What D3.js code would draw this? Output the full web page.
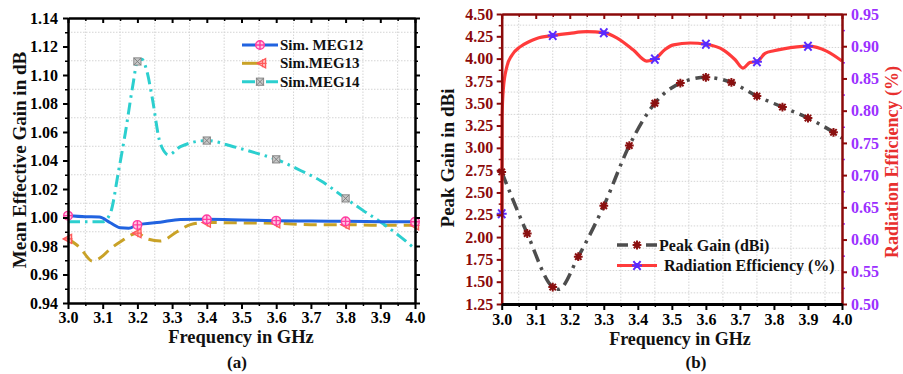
<!DOCTYPE html>
<html>
<head>
<meta charset="utf-8">
<script src="https://cdn.jsdelivr.net/npm/d3@7"></script>
<style>
  body { margin: 0; background: #fff; }
  svg { display: block; }
  text { font-family: "Liberation Serif", "Times New Roman", serif; font-weight: bold; }
</style>
</head>
<body>
<svg id="chart" width="903" height="374"></svg>
<script>
// ---------- Panel (a): mean effective gain ----------
const meg12Freq = [3.0, 3.05, 3.09, 3.122, 3.151, 3.175, 3.2, 3.266, 3.324, 3.4, 3.5, 3.6, 3.7, 3.8, 3.9, 4.0];
const meg12Val  = [1.0013, 1.0006, 1.0003, 0.9963, 0.9928, 0.9925, 0.9948, 0.9967, 0.9986, 0.9987, 0.9983, 0.9978, 0.9975, 0.9973, 0.9971, 0.9970];
const meg12Marks = [3.0, 3.2, 3.4, 3.6, 3.8, 4.0];

const meg13Freq = [3.0, 3.035, 3.07, 3.093, 3.122, 3.151, 3.2, 3.228, 3.266, 3.314, 3.353, 3.4, 3.5, 3.6, 3.7, 3.8, 3.9, 4.0];
const meg13Val  = [0.985, 0.9787, 0.9694, 0.9717, 0.978, 0.983, 0.989, 0.985, 0.9835, 0.990, 0.995, 0.9965, 0.9962, 0.996, 0.995, 0.995, 0.9945, 0.9945];
const meg13Marks = [3.0, 3.2, 3.4, 3.6, 3.8, 4.0];

const meg14Freq = [3.0, 3.05, 3.1, 3.122, 3.146, 3.165, 3.187, 3.2, 3.213, 3.228, 3.242, 3.266, 3.29, 3.324, 3.4, 3.477, 3.545, 3.6, 3.67, 3.727, 3.8, 3.85, 3.9, 3.95, 4.0];
const meg14Val  = [0.997, 0.997, 0.997, 1.003, 1.033, 1.059, 1.093, 1.1095, 1.111, 1.102, 1.085, 1.052, 1.044, 1.0497, 1.054, 1.0497, 1.045, 1.0408, 1.033, 1.026, 1.0134, 1.005, 0.997, 0.988, 0.978];
const meg14Marks = [3.2, 3.4, 3.6, 3.8];

const freqTicks = [3.0, 3.1, 3.2, 3.3, 3.4, 3.5, 3.6, 3.7, 3.8, 3.9, 4.0];
const megTicks = [0.94, 0.96, 0.98, 1.00, 1.02, 1.04, 1.06, 1.08, 1.10, 1.12, 1.14];

// ---------- Panel (b): peak gain and radiation efficiency ----------
const gainFreq = [3.0, 3.075, 3.15, 3.167, 3.225, 3.3, 3.375, 3.45, 3.525, 3.6, 3.675, 3.75, 3.825, 3.9, 3.975, 4.0];
const gainVal  = [2.73, 2.04, 1.44, 1.415, 1.78, 2.35, 3.025, 3.50, 3.726, 3.79, 3.733, 3.58, 3.457, 3.334, 3.174, 3.11];
const gainMarks = [3.0, 3.075, 3.15, 3.225, 3.3, 3.375, 3.45, 3.525, 3.6, 3.675, 3.75, 3.825, 3.9, 3.975];

const effFreq = [3.0, 3.001, 3.005, 3.015, 3.03, 3.054, 3.08, 3.103, 3.15, 3.2, 3.25, 3.3, 3.338, 3.387, 3.426, 3.45, 3.48, 3.505, 3.554, 3.6, 3.652, 3.686, 3.709, 3.73, 3.75, 3.774, 3.8, 3.828, 3.9, 3.956, 4.0];
const effVal  = [0.64, 0.79, 0.835, 0.868, 0.886, 0.899, 0.907, 0.912, 0.9165, 0.920, 0.9225, 0.921, 0.913, 0.894, 0.877, 0.880, 0.895, 0.902, 0.905, 0.903, 0.894, 0.879, 0.866, 0.875, 0.876, 0.889, 0.893, 0.896, 0.900, 0.892, 0.877];
const effMarks = [3.0, 3.15, 3.3, 3.45, 3.6, 3.75, 3.9];

const gainTicks = [1.25, 1.50, 1.75, 2.00, 2.25, 2.50, 2.75, 3.00, 3.25, 3.50, 3.75, 4.00, 4.25, 4.50];
const effTicks = [0.50, 0.55, 0.60, 0.65, 0.70, 0.75, 0.80, 0.85, 0.90, 0.95];

// ---------- helpers ----------
const svg = d3.select("#chart");
const zip = (xs, ys) => xs.map((x, i) => [x, ys[i]]);
const pick = (xs, ys, marks) => marks.map(m => [m, ys[xs.findIndex(v => Math.abs(v - m) < 1e-9)]]);
const mid = (arr) => arr.slice(0, -1).map((v, i) => +((v + arr[i + 1]) / 2).toFixed(4));

function styleAxis(g, color, width, fontSize, textColor) {
  g.select(".domain").attr("stroke", color).attr("stroke-width", width);
  g.selectAll(".tick line").attr("stroke", color).attr("stroke-width", 2);
  g.selectAll(".tick text").attr("fill", textColor || color)
    .style("font-size", fontSize + "px").style("font-weight", "bold")
    .style("font-family", '"Liberation Serif","Times New Roman",serif');
  g.attr("font-size", null).attr("font-family", null);
}

function minorAxis(parent, gen, transform, color) {
  const g = parent.append("g").attr("transform", transform).call(gen);
  g.select(".domain").remove();
  g.selectAll(".tick line").attr("stroke", color).attr("stroke-width", 1.5);
  g.selectAll(".tick text").remove();
  return g;
}

// Marker glyphs
const markers = {
  meg12(g, x, y) {
    const m = g.append("g").attr("transform", `translate(${x},${y})`);
    m.append("circle").attr("r", 4.3).attr("fill", "#ffc6e2").attr("stroke", "#ff3ca0").attr("stroke-width", 1.4);
    m.append("path").attr("d", "M-4.3,0H4.3M0,-4.3V4.3").attr("stroke", "#ff3ca0").attr("stroke-width", 1.4);
  },
  meg13(g, x, y) {
    const m = g.append("g").attr("transform", `translate(${x},${y})`);
    m.append("path").attr("d", "M-4.8,0L3.6,-4.6L3.6,4.6Z").attr("fill", "#ffc4c4").attr("stroke", "#ff5a5a").attr("stroke-width", 1.3);
    m.append("path").attr("d", "M-4.6,0H4.6M0.5,-4V4").attr("stroke", "#ff5a5a").attr("stroke-width", 1.2);
  },
  meg14(g, x, y) {
    const m = g.append("g").attr("transform", `translate(${x},${y})`);
    m.append("rect").attr("x", -3.6).attr("y", -3.6).attr("width", 7.2).attr("height", 7.2)
      .attr("fill", "#c8c8c8").attr("stroke", "#8a8a8a").attr("stroke-width", 1);
    m.append("path").attr("d", "M-3.6,-3.6L3.6,3.6M3.6,-3.6L-3.6,3.6").attr("stroke", "#7a7a7a").attr("stroke-width", 0.9);
  },
  gain(g, x, y) {
    const m = g.append("g").attr("transform", `translate(${x},${y})`);
    m.append("path").attr("d", "M-4.4,0H4.4M0,-4.4V4.4M-3.2,-3.2L3.2,3.2M3.2,-3.2L-3.2,3.2")
      .attr("stroke", "#8b1010").attr("stroke-width", 2);
    m.append("circle").attr("r", 1.6).attr("fill", "#8b1010");
  },
  eff(g, x, y) {
    const m = g.append("g").attr("transform", `translate(${x},${y})`);
    m.append("path").attr("d", "M-5,0H5M-3.6,-4.4L3.6,4.4M3.6,-4.4L-3.6,4.4M0,-2.5V2.5")
      .attr("stroke", "#5a2bff").attr("stroke-width", 2);
    m.append("circle").attr("r", 1.8).attr("fill", "#5a2bff");
  }
};

function gridLines(g, x, y, xVals, yVals) {
  const [x0, x1] = x.range(), [y0, y1] = y.range();
  g.append("g").selectAll("line").data(xVals).join("line")
    .attr("x1", d => x(d)).attr("x2", d => x(d)).attr("y1", y0).attr("y2", y1)
    .attr("stroke", "#d4d4d4").attr("stroke-width", 1).attr("stroke-dasharray", "1.5,1.5");
  g.append("g").selectAll("line").data(yVals).join("line")
    .attr("y1", d => y(d)).attr("y2", d => y(d)).attr("x1", x0).attr("x2", x1)
    .attr("stroke", "#d4d4d4").attr("stroke-width", 1).attr("stroke-dasharray", "1.5,1.5");
}

const fmt1 = d3.format(".1f"), fmt2 = d3.format(".2f");

// ================= Panel (a) =================
{
  const x = d3.scaleLinear().domain([3, 4]).range([68, 415]);
  const y = d3.scaleLinear().domain([0.94, 1.14]).range([303, 18]);
  const g = svg.append("g");
  const minorX = mid(freqTicks), minorY = mid(megTicks);

  gridLines(g, x, y, minorX, minorY);

  const line = d3.line().x(d => x(d[0])).y(d => y(d[1])).curve(d3.curveMonotoneX);
  const plot = g.append("g");
  plot.append("path").datum(zip(meg13Freq, meg13Val)).attr("d", line)
    .attr("fill", "none").attr("stroke", "#c9a227").attr("stroke-width", 3).attr("stroke-dasharray", "13,7");
  plot.append("path").datum(zip(meg14Freq, meg14Val)).attr("d", line)
    .attr("fill", "none").attr("stroke", "#2ccfcf").attr("stroke-width", 3).attr("stroke-dasharray", "12,5,2.5,5");
  plot.append("path").datum(zip(meg12Freq, meg12Val)).attr("d", line)
    .attr("fill", "none").attr("stroke", "#2163e0").attr("stroke-width", 3);

  pick(meg13Freq, meg13Val, meg13Marks).forEach(d => markers.meg13(plot, x(d[0]), y(d[1])));
  pick(meg12Freq, meg12Val, meg12Marks).forEach(d => markers.meg12(plot, x(d[0]), y(d[1])));
  pick(meg14Freq, meg14Val, meg14Marks).forEach(d => markers.meg14(plot, x(d[0]), y(d[1])));

  // frame and ticks
  minorAxis(g, d3.axisBottom(x).tickValues(minorX).tickSize(3), `translate(0,303)`, "#000");
  minorAxis(g, d3.axisTop(x).tickValues(minorX).tickSize(-3), `translate(0,18)`, "#000");
  minorAxis(g, d3.axisLeft(y).tickValues(minorY).tickSize(3), `translate(68,0)`, "#000");
  minorAxis(g, d3.axisRight(y).tickValues(minorY).tickSize(3), `translate(415,0)`, "#000");

  const top = g.append("g").attr("transform", "translate(0,18)")
    .call(d3.axisTop(x).tickValues(freqTicks).tickSize(-5).tickSizeOuter(0).tickFormat(""));
  styleAxis(top, "#000", 2.5, 16);
  const right = g.append("g").attr("transform", "translate(415,0)")
    .call(d3.axisRight(y).tickValues(megTicks).tickSize(5).tickSizeOuter(0).tickFormat(""));
  styleAxis(right, "#000", 2.5, 16);
  const bottom = g.append("g").attr("transform", "translate(0,303)")
    .call(d3.axisBottom(x).tickValues(freqTicks).tickSize(6).tickSizeOuter(0).tickPadding(3).tickFormat(fmt1));
  styleAxis(bottom, "#000", 2.5, 16);
  const left = g.append("g").attr("transform", "translate(68,0)")
    .call(d3.axisLeft(y).tickValues(megTicks).tickSize(5).tickSizeOuter(0).tickPadding(5).tickFormat(fmt2));
  styleAxis(left, "#000", 2.5, 16);

  // axis titles
  g.append("text").attr("x", 241).attr("y", 343).attr("text-anchor", "middle")
    .style("font-size", "18.5px").attr("fill", "#111").text("Frequency in GHz");
  g.append("text").attr("transform", "translate(26,160) rotate(-90)").attr("text-anchor", "middle")
    .style("font-size", "19px").attr("fill", "#111").text("Mean Effective Gain in dB");
  g.append("text").attr("x", 237).attr("y", 368).attr("text-anchor", "middle")
    .style("font-size", "17px").attr("fill", "#111").text("(a)");

  // legend
  const lg = g.append("g");
  const rows = [
    { label: "Sim. MEG12", y: 45 },
    { label: "Sim.MEG13", y: 63.3 },
    { label: "Sim.MEG14", y: 81.7 }
  ];
  lg.append("line").attr("x1", 242).attr("x2", 278).attr("y1", rows[0].y).attr("y2", rows[0].y)
    .attr("stroke", "#2163e0").attr("stroke-width", 3);
  markers.meg12(lg, 260, rows[0].y);
  lg.append("line").attr("x1", 242).attr("x2", 263).attr("y1", rows[1].y).attr("y2", rows[1].y)
    .attr("stroke", "#c9a227").attr("stroke-width", 3);
  markers.meg13(lg, 262, rows[1].y);
  lg.append("line").attr("x1", 242).attr("x2", 278).attr("y1", rows[2].y).attr("y2", rows[2].y)
    .attr("stroke", "#2ccfcf").attr("stroke-width", 3).attr("stroke-dasharray", "13,11");
  markers.meg14(lg, 260, rows[2].y);
  rows.forEach(r => lg.append("text").attr("x", 280).attr("y", r.y + 5)
    .style("font-size", "15px").attr("fill", "#111").text(r.label));
}

// ================= Panel (b) =================
{
  const x = d3.scaleLinear().domain([3, 4]).range([501.7, 842]);
  const y = d3.scaleLinear().domain([1.25, 4.5]).range([304, 14]);
  const y2 = d3.scaleLinear().domain([0.50, 0.95]).range([304, 14]);
  const g = svg.append("g");
  const maroon = "#8b0a0a", purple = "#9b30ff";
  const minorX = mid(freqTicks), minorY = mid(gainTicks), minorY2 = mid(effTicks);

  gridLines(g, x, y, minorX, minorY);

  const plot = g.append("g");
  const gl = d3.line().x(d => x(d[0])).y(d => y(d[1])).curve(d3.curveMonotoneX);
  const el = d3.line().x(d => x(d[0])).y(d => y2(d[1])).curve(d3.curveMonotoneX);
  plot.append("path").datum(zip(gainFreq, gainVal)).attr("d", gl)
    .attr("fill", "none").attr("stroke", "#4d4d4d").attr("stroke-width", 3.5).attr("stroke-dasharray", "13,6,3,6");
  plot.append("path").datum(zip(effFreq, effVal)).attr("d", el)
    .attr("fill", "none").attr("stroke", "#ff3b3b").attr("stroke-width", 3.2);
  pick(gainFreq, gainVal, gainMarks).forEach(d => markers.gain(plot, x(d[0]), y(d[1])));
  pick(effFreq, effVal, effMarks).forEach(d => markers.eff(plot, x(d[0]), y2(d[1])));

  minorAxis(g, d3.axisBottom(x).tickValues(minorX).tickSize(3), `translate(0,304)`, "#000");
  minorAxis(g, d3.axisTop(x).tickValues(minorX).tickSize(-3), `translate(0,14)`, maroon);
  minorAxis(g, d3.axisLeft(y).tickValues(minorY).tickSize(3), `translate(501.7,0)`, maroon);
  minorAxis(g, d3.axisRight(y2).tickValues(minorY2).tickSize(3), `translate(842,0)`, purple);

  const top = g.append("g").attr("transform", "translate(0,14)")
    .call(d3.axisTop(x).tickValues(freqTicks).tickSize(-5).tickSizeOuter(0).tickFormat(""));
  styleAxis(top, maroon, 2.5, 16);
  const right = g.append("g").attr("transform", "translate(842,0)")
    .call(d3.axisRight(y2).tickValues(effTicks).tickSize(5).tickSizeOuter(0).tickPadding(4).tickFormat(fmt2));
  styleAxis(right, maroon, 2.5, 16, purple);
  const left = g.append("g").attr("transform", "translate(501.7,0)")
    .call(d3.axisLeft(y).tickValues(gainTicks).tickSize(5).tickSizeOuter(0).tickPadding(3.5).tickFormat(fmt2));
  styleAxis(left, maroon, 2.5, 16);
  const bottom = g.append("g").attr("transform", "translate(0,304)")
    .call(d3.axisBottom(x).tickValues(freqTicks).tickSize(6).tickSizeOuter(0).tickPadding(4).tickFormat(fmt1));
  styleAxis(bottom, "#000", 3, 16);

  g.append("text").attr("x", 680).attr("y", 345).attr("text-anchor", "middle")
    .style("font-size", "18px").attr("fill", "#111").text("Frequency in GHz");
  g.append("text").attr("transform", "translate(454,158) rotate(-90)").attr("text-anchor", "middle")
    .style("font-size", "19px").attr("fill", "#111").text("Peak Gain in dBi");
  g.append("text").attr("transform", "translate(898,162) rotate(-90)").attr("text-anchor", "middle")
    .style("font-size", "18px").attr("fill", "#e8302f").text("Radiation Efficiency (%)");
  g.append("text").attr("x", 696).attr("y", 368).attr("text-anchor", "middle")
    .style("font-size", "17px").attr("fill", "#111").text("(b)");

  // legend
  const lg = g.append("g");
  lg.append("line").attr("x1", 617).attr("x2", 657).attr("y1", 245).attr("y2", 245)
    .attr("stroke", "#4d4d4d").attr("stroke-width", 3.5).attr("stroke-dasharray", "11,18,11");
  markers.gain(lg, 637, 245);
  lg.append("text").attr("x", 659).attr("y", 250.5).style("font-size", "16px").attr("fill", "#111").text("Peak Gain (dBi)");
  lg.append("line").attr("x1", 617).attr("x2", 657).attr("y1", 265.5).attr("y2", 265.5)
    .attr("stroke", "#ff3b3b").attr("stroke-width", 3.2);
  markers.eff(lg, 637, 265.5);
  lg.append("text").attr("x", 664).attr("y", 271).style("font-size", "16px").attr("fill", "#111").text("Radiation Efficiency (%)");
}
</script>
</body>
</html>
